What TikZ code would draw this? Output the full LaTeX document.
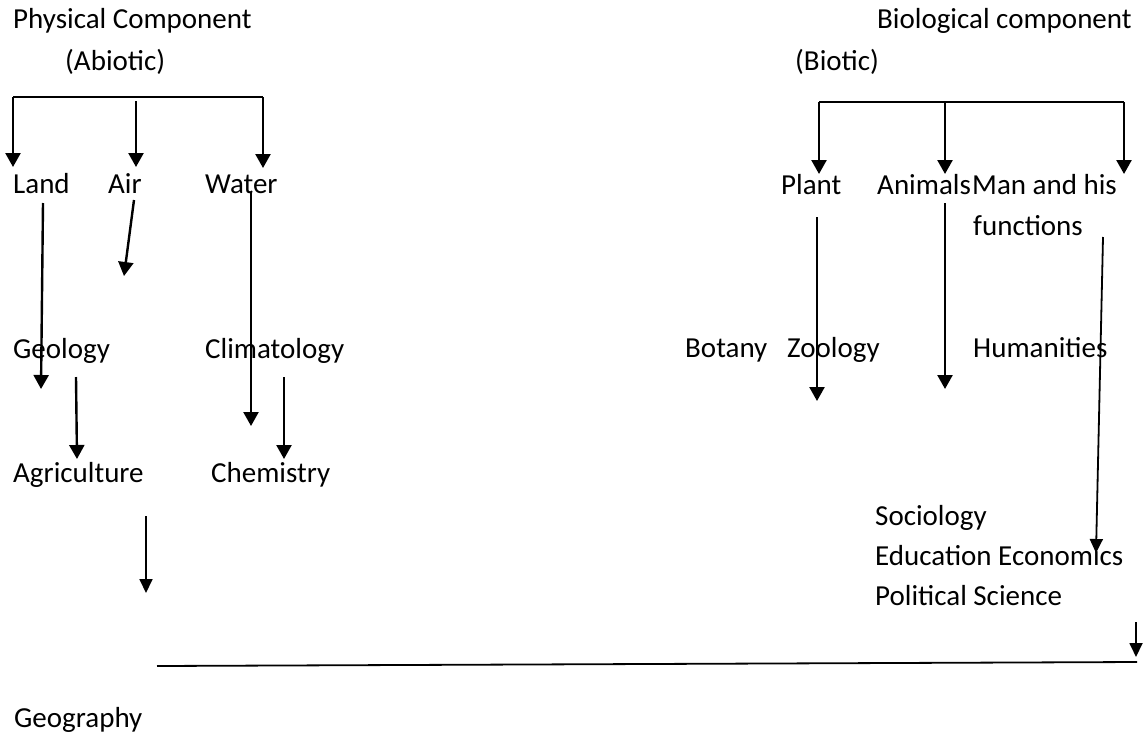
\documentclass[tikz,border=0pt]{standalone}
\usepackage{fontspec}
\setmainfont{Carlito}
\usetikzlibrary{arrows.meta}
\begin{document}
\begin{tikzpicture}[x=1pt,y=-1pt,
  lbl/.style={anchor=base west,inner sep=0pt,font=\fontsize{29}{35}\selectfont},
  arr/.style={line width=2.4pt,-{Triangle[width=15pt,length=14pt]}},
  thinarr/.style={line width=1.8pt,-{Triangle[width=13pt,length=14pt]}},
  bar/.style={line width=2.4pt}]
\useasboundingbox (0,0) rectangle (1145,734);
% texts left
\node[lbl] (phys) at (13,28) {Physical Component};
\node[lbl] (abio) at (65,70) {(Abiotic)};
\node[lbl] (land) at (13,193) {Land};
\node[lbl] (air) at (108,193) {Air};
\node[lbl] (water) at (205,193) {Water};
\node[lbl] (geol) at (13,358) {Geology};
\node[lbl] (clim) at (205,358) {Climatology};
\node[lbl] (agri) at (13,482) {Agriculture};
\node[lbl] (chem) at (211,482) {Chemistry};
\node[lbl] (geog) at (14,727) {Geography};
% texts right
\node[lbl] (bio) at (877,28) {Biological component};
\node[lbl] (biot) at (795,70) {(Biotic)};
\node[lbl] (plant) at (781,194) {Plant};
\node[lbl] (anim) at (877,194) {Animals};
\node[lbl] (man) at (972,194) {Man and his};
\node[lbl] (func) at (973,235) {functions};
\node[lbl] (bot) at (685,357) {Botany};
\node[lbl] (zoo) at (787,357) {Zoology};
\node[lbl] (hum) at (973,357) {Humanities};
\node[lbl] (soc) at (875,525) {Sociology};
\node[lbl] (edu) at (875,565) {Education Economics};
\node[lbl] (pol) at (875,605) {Political Science};
% coordinates left
\coordinate (b1a) at (13,97);
\coordinate (b1b) at (263,97);
\coordinate (l1) at (13,167);
\coordinate (m0) at (136,101);
\coordinate (m1) at (136,167);
\coordinate (r1) at (263,168);
\coordinate (la0) at (43,203);
\coordinate (la1) at (41,389);
\coordinate (ai0) at (134,200);
\coordinate (ai1) at (124,276);
\coordinate (wa0) at (251,192);
\coordinate (wa1) at (251,426);
\coordinate (ge0) at (76,377);
\coordinate (ge1) at (77,459);
\coordinate (cl0) at (284,377);
\coordinate (cl1) at (284,459);
\coordinate (ag0) at (146,516);
\coordinate (ag1) at (146,593);
% coordinates right
\coordinate (b2a) at (819,102);
\coordinate (b2b) at (1124,102);
\coordinate (p1) at (819,174);
\coordinate (a0) at (945,103);
\coordinate (a1) at (945,174);
\coordinate (c1) at (1124,174);
\coordinate (pl0) at (817,217);
\coordinate (pl1) at (817,401);
\coordinate (an0) at (945,203);
\coordinate (an1) at (945,389);
\coordinate (mn0) at (1103,237);
\coordinate (mn1) at (1096,553);
\coordinate (sm0) at (1136,622);
\coordinate (sm1) at (1136,657);
\coordinate (h0) at (157,666);
\coordinate (h1) at (1137,662);
% bars
\draw[bar] (b1a) -- (b1b);
\draw[bar] (b2a) -- (b2b);
% arrows left
\draw[arr] (b1a) -- (l1);
\draw[arr] (m0) -- (m1);
\draw[arr] (b1b) -- (r1);
\draw[arr] (la0) -- (la1);
\draw[arr] (ai0) -- (ai1);
\draw[arr] (wa0) -- (wa1);
\draw[arr] (ge0) -- (ge1);
\draw[arr] (cl0) -- (cl1);
\draw[thinarr] (ag0) -- (ag1);
% arrows right
\draw[arr] (b2a) -- (p1);
\draw[arr] (a0) -- (a1);
\draw[arr] (b2b) -- (c1);
\draw[arr] (pl0) -- (pl1);
\draw[arr] (an0) -- (an1);
\draw[thinarr] (mn0) -- (mn1);
\draw[thinarr] (sm0) -- (sm1);
\draw[line width=1.8pt] (h0) -- (h1);
\end{tikzpicture}
\end{document}
